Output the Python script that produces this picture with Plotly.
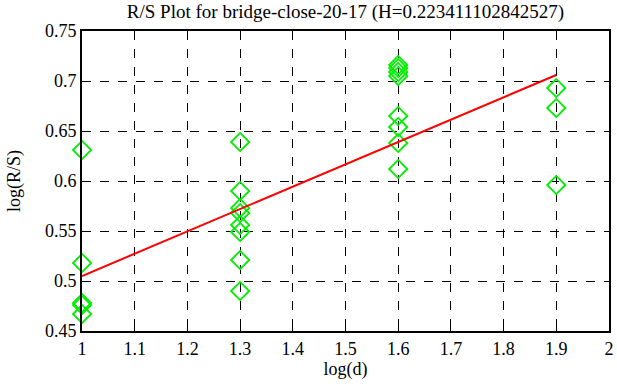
import plotly.graph_objects as go

# Data
x_vals = [1.0, 1.0, 1.0, 1.0, 1.0,
          1.3, 1.3, 1.3, 1.3, 1.3, 1.3, 1.3, 1.3,
          1.6, 1.6, 1.6, 1.6, 1.6, 1.6, 1.6, 1.6,
          1.9, 1.9, 1.9]
y_vals = [0.631, 0.518, 0.478, 0.476, 0.467,
          0.639, 0.590, 0.573, 0.568, 0.556, 0.549, 0.521, 0.490,
          0.716, 0.713, 0.709, 0.705, 0.665, 0.654, 0.638, 0.612,
          0.693, 0.673, 0.596]
fit_x = [1.0, 1.9]
fit_y = [0.505, 0.706]
x_ticks = [1, 1.1, 1.2, 1.3, 1.4, 1.5, 1.6, 1.7, 1.8, 1.9, 2]
x_tick_labels = ["1", "1.1", "1.2", "1.3", "1.4", "1.5", "1.6", "1.7", "1.8", "1.9", "2"]
y_ticks = [0.45, 0.5, 0.55, 0.6, 0.65, 0.7, 0.75]
y_tick_labels = ["0.45", "0.5", "0.55", "0.6", "0.65", "0.7", "0.75"]
title_text = "R/S Plot for bridge-close-20-17 (H=0.223411102842527)"

FONT = "'Liberation Serif', 'Times New Roman', serif"
FS = 18

fig = go.Figure()
fig.add_trace(go.Scatter(
    x=x_vals, y=y_vals, mode="markers",
    marker=dict(symbol="diamond-open", size=14, color="#00ee00",
                line=dict(width=1.8, color="#00ee00")),
    showlegend=False, cliponaxis=False,
))
fig.add_trace(go.Scatter(
    x=fit_x, y=fit_y, mode="lines",
    line=dict(color="#ff0000", width=2),
    showlegend=False,
))

axis_common = dict(
    showline=True, linecolor="black", linewidth=2, mirror="ticks",
    ticks="inside", ticklen=5, tickcolor="black", tickwidth=1,
    showgrid=True, gridcolor="black", gridwidth=1, griddash="dash",
    zeroline=False, automargin=False,
    tickfont=dict(family=FONT, size=FS, color="black"),
)

fig.update_layout(
    width=617, height=387,
    margin=dict(l=82, r=8, t=31, b=56, autoexpand=False),
    paper_bgcolor="white", plot_bgcolor="white",
    font=dict(family=FONT, size=FS, color="black"),
    title=dict(text=title_text, x=0.5, xref="paper",
               y=1 - 11 / 387, yref="container", yanchor="middle", xanchor="center",
               font=dict(family=FONT, size=FS + 1, color="black")),
    xaxis=dict(range=[0.9999, 2.0001], tickvals=x_ticks, ticktext=x_tick_labels,
               ticklabeloverflow="allow",
               title=dict(text="log(d)", standoff=2,
                          font=dict(family=FONT, size=FS)),
               **axis_common),
    yaxis=dict(range=[0.45, 0.75], tickvals=y_ticks, ticktext=y_tick_labels,
               title=dict(text="log(R/S)", standoff=20,
                          font=dict(family=FONT, size=FS)),
               **axis_common),
)

fig.write_html("out.html",
               config={"displayModeBar": False},
               post_script="document.body.style.margin='0';document.body.style.padding='0';")
